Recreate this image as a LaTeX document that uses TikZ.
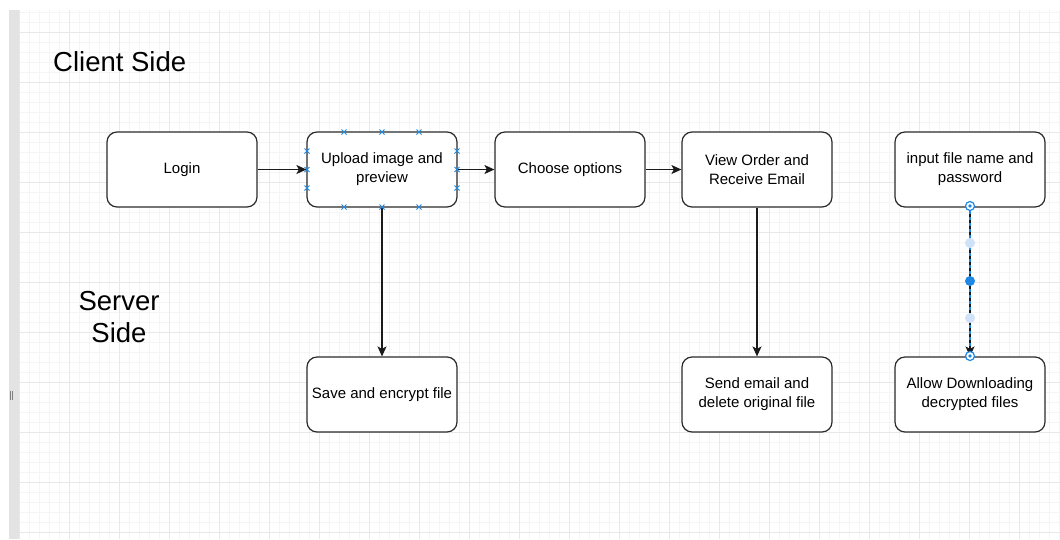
\documentclass[tikz,border=0pt]{standalone}
\usepackage{fontspec}
\setmainfont{Liberation Sans}
\usetikzlibrary{arrows.meta}
\definecolor{gridminor}{HTML}{F5F5F5}
\definecolor{gridmajor}{HTML}{E8E8E8}
\definecolor{barcol}{HTML}{E3E3E3}
\definecolor{selblue}{HTML}{1E88E5}
\definecolor{lightblue}{HTML}{CFE2F8}
\definecolor{edgecol}{HTML}{1A1A1A}
\definecolor{boxline}{HTML}{2B2B2B}
\begin{document}
\begin{tikzpicture}[x=1pt,y=-1pt,
  box/.style={draw=boxline, line width=1.2pt, rounded corners=10pt, fill=white,
    minimum width=150pt, minimum height=75pt, inner sep=0pt, align=center,
    font=\fontsize{15}{19}\selectfont},
  arr/.style={draw=edgecol, line width=1.2pt, -{Stealth[length=10pt,width=9pt,inset=2.5pt]}},
  title/.style={font=\fontsize{27.5}{32}\selectfont, align=center, inner sep=0pt},
  xmark/.style={draw=selblue, line width=1pt},
  handle/.style={draw=selblue, line width=1.2pt, fill=white}]
\useasboundingbox (0,0) rectangle (1060,539);
\fill[white] (0,0) rectangle (1060,539);
% grid
\foreach \x in {19,29,...,1059} \draw[gridminor, line width=0.8pt] (\x,10) -- (\x,539);
\foreach \y in {12,22,...,532} \draw[gridminor, line width=0.8pt] (19,\y) -- (1060,\y);
\foreach \x in {19,69,...,1019} \draw[gridmajor, line width=0.9pt] (\x,10) -- (\x,539);
\foreach \y in {32,82,...,532} \draw[gridmajor, line width=0.9pt] (19,\y) -- (1060,\y);
% left bar
\fill[barcol] (9,10) rectangle (19,539);
\draw[gray, line width=0.8pt] (10.5,391) -- (10.5,400) (12.5,391) -- (12.5,400);
% titles
\node[title, anchor=west] (client) at (53,62) {Client Side};
\node[title] (server) at (119,317) {Server\\Side};
% nodes
\node[box] (login) at (182,169.5) {Login};
\node[box] (upload) at (382,169.5) {Upload image and\\preview};
\node[box] (choose) at (570,169.5) {Choose options};
\node[box] (view) at (757,169.5) {View Order and\\Receive Email};
\node[box] (input) at (970,169.5) {input file name and\\password};
\node[box] (save) at (382,394.5) {Save and encrypt file};
\node[box] (send) at (757,394.5) {Send email and\\delete original file};
\node[box] (allow) at (970,394.5) {Allow Downloading\\decrypted files};
% connectors
\draw[arr] (login) -- (upload);
\draw[arr] (upload) -- (choose);
\draw[arr] (choose) -- (view);
\draw[arr] (upload) -- (save);
\draw[arr] (view) -- (send);
\draw[selblue, line width=1.2pt] (input.south) -- (allow.north);
\draw[arr, dash pattern=on 3pt off 3pt] (input.south) -- (allow.north);
% selection markers on upload
\foreach \p in {(344,132),(382,132),(419,132),(344,207),(382,207),(419,207),
                (307,151),(307,169.5),(307,188),(457,151),(457,169.5),(457,188)}{
  \draw[xmark] \p ++(-2.5,-2.5) -- ++(5,5) \p ++(-2.5,2.5) -- ++(5,-5);
}
% edge handles
\fill[lightblue] (970,243) circle (5pt);
\fill[lightblue] (970,318) circle (5pt);
\fill[selblue] (970,281) circle (5pt);
\draw[handle] (970,206) circle (4.5pt);
\fill[selblue] (970,206) circle (1.8pt);
\draw[handle] (970,356) circle (4.5pt);
\fill[selblue] (970,356) circle (1.8pt);
\end{tikzpicture}
\end{document}
